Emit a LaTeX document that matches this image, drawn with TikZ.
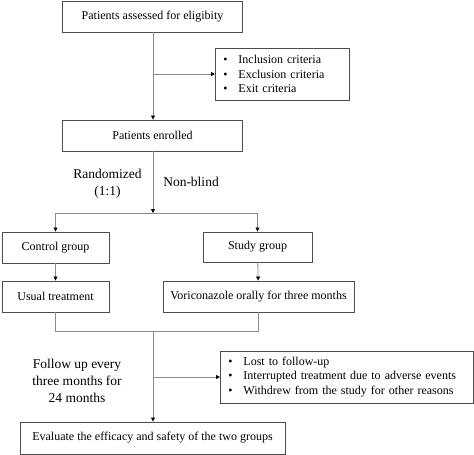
\documentclass[tikz,border=0pt]{standalone}
\usepackage{fontspec}
\setmainfont{Liberation Serif}
\usetikzlibrary{arrows.meta}
\tikzset{
  box/.style={draw=black!70, line width=0.9pt, inner sep=0pt, font=\fontsize{12}{14}\selectfont, text=black},
  listbox/.style={draw=black!70, line width=0.9pt, inner xsep=8pt, inner ysep=0pt, font=\fontsize{12}{14.7}\selectfont, align=left, anchor=west},
  conn/.style={draw=black!45, line width=0.8pt},
  arr/.style={conn, -{Triangle[length=4pt,width=4pt,color=black]}},
  lbl/.style={font=\fontsize{13.5}{17}\selectfont, align=center, text=black}
}
\newcommand{\itm}{\makebox[15pt][l]{\textbullet}}
\begin{document}
\begin{tikzpicture}[x=1pt,y=-1pt]
\useasboundingbox (0,0) rectangle (474,455);
% boxes
\node[box, minimum width=180pt, minimum height=31pt] (b1) at (152.5,16.5) {Patients assessed for eligibity};
\node[listbox, minimum width=134pt, minimum height=52pt, text width=118pt] (crit) at (215,74) {\itm Inclusion criteria\\ \itm Exclusion criteria\\ \itm Exit criteria};
\node[box, minimum width=180pt, minimum height=31pt] (b2) at (152.5,135.5) {Patients enrolled};
\node[box, minimum width=107pt, minimum height=31pt] (ctrl) at (55.5,247.5) {Control group};
\node[box, minimum width=109pt, minimum height=30pt] (study) at (257.5,247) {Study group};
\node[box, minimum width=107pt, minimum height=31pt] (usual) at (55.5,296.5) {Usual treatment};
\node[box, minimum width=191pt, minimum height=31pt] (vori) at (258.5,296.5) {Voriconazole orally for three months};
\node[listbox, minimum width=253pt, minimum height=52pt, text width=237pt] (lost) at (220,377) {\itm Lost to follow-up\\ \itm Interrupted treatment due to adverse events\\ \itm Withdrew from the study for other reasons};
\node[box, minimum width=265pt, minimum height=32pt] (final) at (152.5,438) {Evaluate the efficacy and safety of the two groups};
% labels
\node[lbl] (rand) at (107.5,183.5) {Randomized\\(1:1)};
\node[lbl] (nb) at (191,182) {Non-blind};
\node[lbl] (fu) at (77,381) {Follow up every\\three months for\\24 months};
% coordinates
\coordinate (j1) at (153,74);
\coordinate (sp) at (153,213);
\coordinate (sl) at (55.5,213);
\coordinate (sr) at (257.5,213);
\coordinate (ml) at (55.5,331);
\coordinate (mr) at (258.5,331);
\coordinate (mc) at (153,331);
\coordinate (j2) at (153,377);
% connectors
\draw[arr] (b1.south -| j1) -- (b2.north -| j1);
\draw[arr] (j1) -- (crit.west);
\draw[arr] (b2.south -| sp) -- (sp);
\draw[conn] (sl) -- (sr);
\draw[arr] (sl) -- (ctrl.north);
\draw[arr] (sr) -- (study.north);
\draw[arr] (ctrl) -- (usual);
\draw[arr] (study) -- (vori);
\draw[conn] (usual.south) -- (ml) -- (mr) -- (vori.south);
\draw[arr] (mc) -- (final.north -| mc);
\draw[arr] (j2) -- (lost.west);
\end{tikzpicture}
\end{document}
